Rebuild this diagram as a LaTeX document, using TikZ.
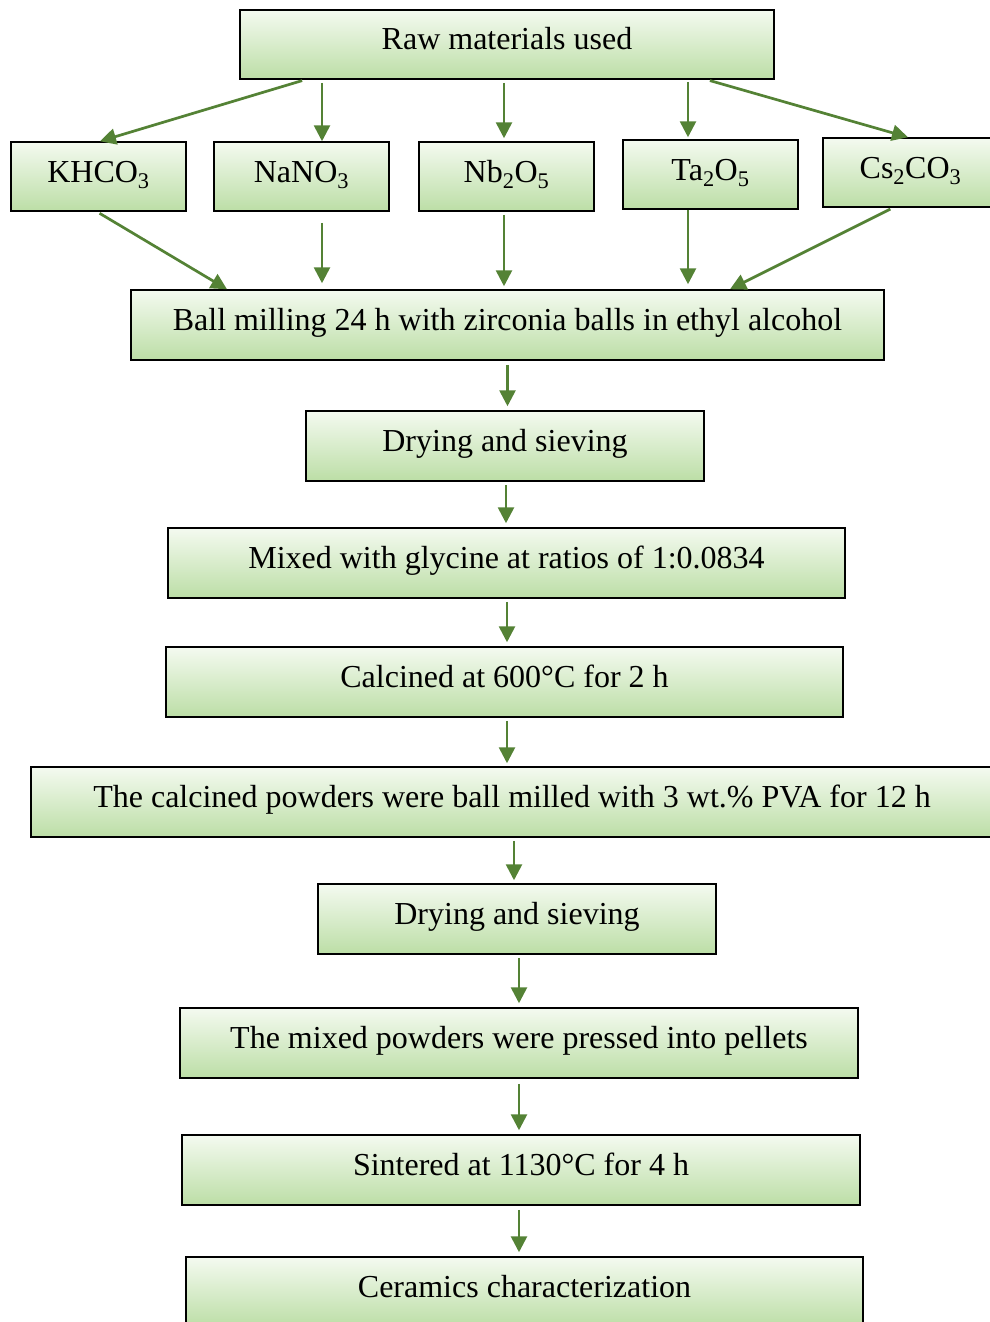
\documentclass[tikz,border=0pt]{standalone}
\usepackage{fontspec}
\setmainfont{Liberation Serif}
\usetikzlibrary{arrows.meta}
\definecolor{boxtop}{RGB}{244,250,240}
\definecolor{boxbottom}{RGB}{188,222,166}
\definecolor{arrowgreen}{RGB}{84,130,53}
\begin{document}
\begin{tikzpicture}[x={(1pt,0)}, y={(0,-1pt)},
		stage/.style={draw=black, line width=1.5pt, top color=boxtop, bottom color=boxbottom,
			inner sep=0pt, minimum height=70pt, text height=22pt, text depth=11pt,
			font=\fontsize{32}{38}\selectfont},
		oxide/.style={stage, minimum width=175pt, minimum height=69pt},
		flow/.style={draw=arrowgreen, line width=2.7pt, -{Triangle[length=16pt,width=16pt]}}]
			%%%%% START %%%%%
			
			\useasboundingbox (0,0) rectangle (989,1322);
			
			\node[stage, minimum width=534pt, minimum height=69pt] (raw) at (507,44.5) {Raw materials used};
			
			\node[oxide] (khco) at (98.5,176.5) {KHCO\textsubscript{3}};
			\node[oxide] (nano) at (301.5,176.5) {NaNO\textsubscript{3}};
			\node[oxide] (nbo) at (506.5,176.5) {Nb\textsubscript{2}O\textsubscript{5}};
			\node[oxide] (tao) at (710.5,174.5) {Ta\textsubscript{2}O\textsubscript{5}};
			\node[oxide] (csco) at (910.5,172.5) {Cs\textsubscript{2}CO\textsubscript{3}};
			
			\node[stage, minimum width=753pt] (ballmill) at (507.5,325) {Ball milling 24 h with zirconia balls in ethyl alcohol};
			\node[stage, minimum width=398pt] (dryA) at (505,446) {Drying and sieving};
			\node[stage, minimum width=677pt] (glycine) at (506.5,563) {Mixed with glycine at ratios of 1:0.0834};
			\node[stage, minimum width=677pt] (calcine) at (504.5,682) {Calcined at 600°C for 2 h};
			\node[stage, minimum width=962pt] (pvamill) at (512,802) {The calcined powders were ball milled with 3 wt.\% PVA for 12 h};
			\node[stage, minimum width=398pt] (dryB) at (517,919) {Drying and sieving};
			\node[stage, minimum width=678pt] (press) at (519,1043) {The mixed powders were pressed into pellets};
			\node[stage, minimum width=678pt] (sinter) at (521,1170) {Sintered at 1130°C for 4 h};
			\node[stage, minimum width=677pt] (charac) at (524.5,1292) {Ceramics characterization};
			
			% raw materials
			\draw[flow, shorten <=3pt] ([xshift=-202pt]raw.south) -- ([xshift=1.5pt]khco.north);
			\draw[flow, shorten <=3pt] ([xshift=20.5pt]nano.north |- raw.south) -- ([xshift=20.5pt]nano.north);
			\draw[flow, shorten <=3pt, shorten >=3pt] ([xshift=-2.5pt]nbo.north |- raw.south) -- ([xshift=-2.5pt]nbo.north);
			\draw[flow, shorten <=2pt, shorten >=2pt] ([xshift=-22.5pt]tao.north |- raw.south) -- ([xshift=-22.5pt]tao.north);
			\draw[flow, shorten <=3pt] ([xshift=200pt]raw.south) -- ([xshift=-2.5pt]csco.north);
			
			% into the ball mill
			\draw[flow, shorten <=3pt] ([xshift=-1.5pt]khco.south) -- ([xshift=-280.5pt]ballmill.north);
			\draw[flow, shorten <=11pt, shorten >=6pt] ([xshift=20.5pt]nano.south) -- ([xshift=20.5pt]nano.south |- ballmill.north);
			\draw[flow, shorten <=3pt, shorten >=3pt] ([xshift=-2.5pt]nbo.south) -- ([xshift=-2.5pt]nbo.south |- ballmill.north);
			\draw[flow, shorten >=5pt] ([xshift=-22.5pt]tao.south) -- ([xshift=-22.5pt]tao.south |- ballmill.north);
			\draw[flow, shorten <=3pt] ([xshift=-17.5pt]csco.south) -- ([xshift=222.5pt]ballmill.north);
			
			% process line
			\draw[flow, shorten <=4pt, shorten >=4pt] (ballmill.south) -- (ballmill.south |- dryA.north);
			\draw[flow, shorten <=3pt, shorten >=4pt] ([xshift=1pt]dryA.south) -- ([xshift=1pt]dryA.south |- glycine.north);
			\draw[flow, shorten <=3pt, shorten >=4pt] ([xshift=0.5pt]glycine.south) -- ([xshift=0.5pt]glycine.south |- calcine.north);
			\draw[flow, shorten <=3pt, shorten >=3pt] ([xshift=2.5pt]calcine.south) -- ([xshift=2.5pt]calcine.south |- pvamill.north);
			\draw[flow, shorten <=3pt, shorten >=3pt] ([xshift=2pt]pvamill.south) -- ([xshift=2pt]pvamill.south |- dryB.north);
			\draw[flow, shorten <=3pt, shorten >=4pt] ([xshift=2pt]dryB.south) -- ([xshift=2pt]dryB.south |- press.north);
			\draw[flow, shorten <=5pt, shorten >=4pt] (press.south) -- (press.south |- sinter.north);
			\draw[flow, shorten <=4pt, shorten >=4pt] ([xshift=-2pt]sinter.south) -- ([xshift=-2pt]sinter.south |- charac.north);
			
			%%%%% END %%%%%
\end{tikzpicture}
\end{document}
